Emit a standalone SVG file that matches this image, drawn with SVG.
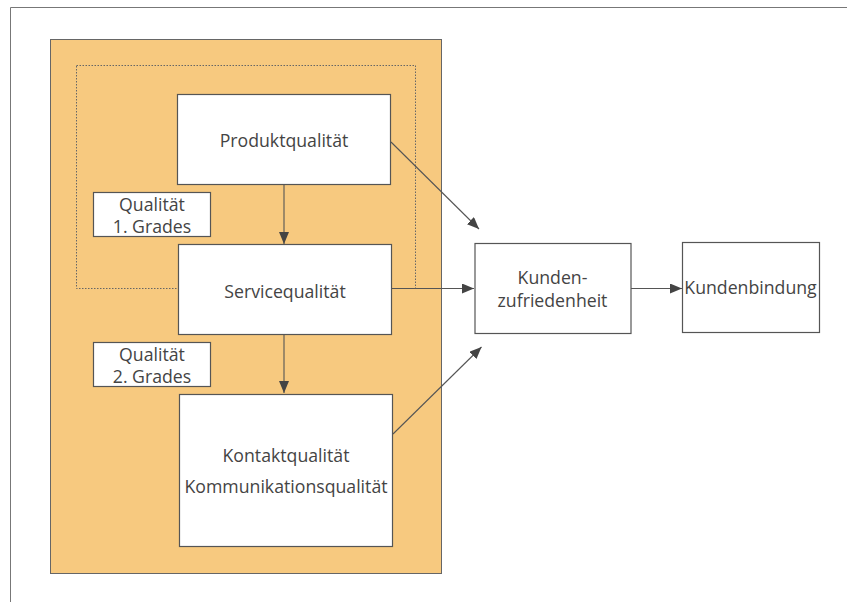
<svg xmlns="http://www.w3.org/2000/svg" width="847" height="602" viewBox="0 0 847 602">
<style>
.box{fill:#fff;stroke:#555;stroke-width:1.2}
.t{font-family:"Open Sans","Noto Sans",sans-serif;font-size:17.7px;fill:#444;text-anchor:middle}
.c{stroke:#555;stroke-width:1.1;fill:none}
</style>
<defs>
<marker id="ah" viewBox="0 0 12 10" refX="12" refY="5" markerWidth="12" markerHeight="10" markerUnits="userSpaceOnUse" orient="auto">
<path d="M0,0 L12,5 L0,10 Z" fill="#444"/>
</marker>
</defs>
<rect width="847" height="602" fill="#fff"/>
<path d="M10.5,602 V7.5 H847" fill="none" stroke="#777" stroke-width="1"/>
<g id="gruppe">
<rect x="51" y="40" width="391" height="534" fill="#bbb"/>
<rect x="50.5" y="39.5" width="391" height="534" fill="#F7C97F" stroke="#666" stroke-width="1"/>
<rect x="76.5" y="65.5" width="339" height="223" fill="none" stroke="#666" stroke-width="1" stroke-dasharray="1.5,1.5"/>
</g>
<g id="connectors">
<line class="c" x1="284" y1="185" x2="284" y2="244" marker-end="url(#ah)"/>
<line class="c" x1="284" y1="335" x2="284" y2="393" marker-end="url(#ah)"/>
<line class="c" x1="391" y1="142" x2="479" y2="229" marker-end="url(#ah)"/>
<line class="c" x1="391" y1="288.5" x2="474" y2="288.5" marker-end="url(#ah)"/>
<line class="c" x1="393" y1="434" x2="481.5" y2="347" marker-end="url(#ah)"/>
<line class="c" x1="631" y1="288.5" x2="682" y2="288.5" marker-end="url(#ah)"/>
</g>
<g id="produkt">
<rect class="box" x="177.5" y="94.5" width="213" height="90"/>
<text class="t" x="284" y="147">Produktqualität</text>
</g>
<g id="service">
<rect class="box" x="178.5" y="244.5" width="213" height="90"/>
<text class="t" x="285" y="298">Servicequalität</text>
</g>
<g id="kontakt">
<rect class="box" x="179.5" y="394.5" width="213" height="152"/>
<text class="t" x="286" y="461.5">Kontaktqualität</text>
<text class="t" x="286" y="492.5">Kommunikationsqualität</text>
</g>
<g id="grad1">
<rect class="box" x="93.5" y="192.5" width="117" height="44"/>
<text class="t" x="152" y="210.5">Qualität</text>
<text class="t" x="152" y="232.5">1. Grades</text>
</g>
<g id="grad2">
<rect class="box" x="93.5" y="342.5" width="117" height="44"/>
<text class="t" x="152" y="360.5">Qualität</text>
<text class="t" x="152" y="382.5">2. Grades</text>
</g>
<g id="zufriedenheit">
<rect class="box" x="475" y="243.5" width="156" height="90"/>
<text class="t" x="552.5" y="283.5">Kunden-</text>
<text class="t" x="552.5" y="306.5">zufriedenheit</text>
</g>
<g id="bindung">
<rect class="box" x="682.5" y="242.5" width="137" height="90"/>
<text class="t" x="750.5" y="294">Kundenbindung</text>
</g>
</svg>
